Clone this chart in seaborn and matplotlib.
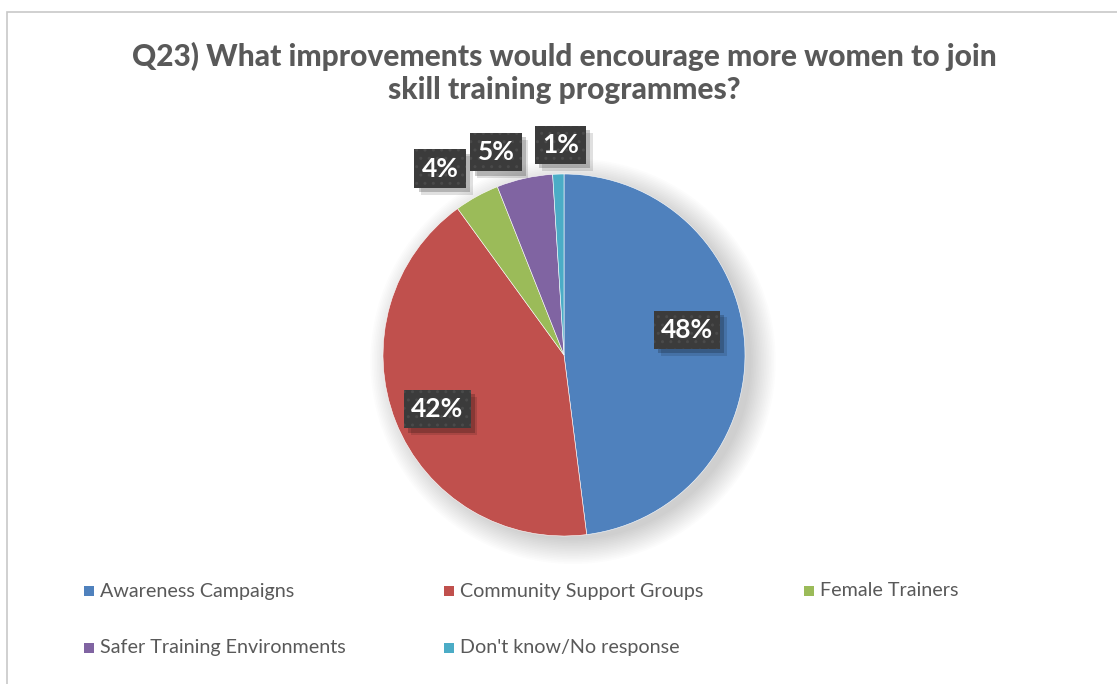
import matplotlib
matplotlib.use("Agg")
import matplotlib.pyplot as plt
import matplotlib.patheffects as pe
from matplotlib.patches import Rectangle, Circle
import seaborn as sns

# Survey responses
categories = ["Awareness Campaigns", "Community Support Groups", "Female Trainers",
              "Safer Training Environments", "Don't know/No response"]
shares = [48, 42, 4, 5, 1]
title = "Q23) What improvements would encourage more women to join\nskill training programmes?"

sns.set_theme(style="white")
plt.rcParams["font.family"] = ["Lato", "DejaVu Sans"]
plt.rcParams["hatch.linewidth"] = 1.0

palette = ["#4F81BD", "#C0504D", "#9BBB59", "#8064A2", "#4BACC6"]
text_grey = "#595959"

W, H = 1117, 684
fig = plt.figure(figsize=(W / 100, H / 100), dpi=100)
fig.patch.set_facecolor("white")

# one data unit = pie radius in pixels
R_PX = 181.0
CX, CY = 564.0, 355.0
ax = fig.add_axes([0, 0, 1, 1])

# soft drop shadow under the pie, cast to the lower right
for i in range(16):
    ax.add_patch(Circle((0.05, -0.035), 0.985 + 0.009 * i, facecolor="black",
                        edgecolor="none", alpha=0.011, zorder=1))

wedges, _ = ax.pie(shares, colors=palette, startangle=90, counterclock=False,
                   radius=1.0, center=(0, 0),
                   wedgeprops=dict(edgecolor="white", linewidth=0.4))
for w in wedges:
    w.set_zorder(2)

ax.set_xlim(-CX / R_PX, (W - CX) / R_PX)
ax.set_ylim(-(H - CY) / R_PX, CY / R_PX)
ax.set_aspect("equal")
ax.axis("off")

# label placement (x, y) in pie-radius units
label_pos = [(0.68, 0.14), (-0.70, -0.30), (-0.685, 1.03), (-0.376, 1.12), (-0.02, 1.16)]
box_style = "square,pad=0.27"
for val, (lx, ly) in zip(shares, label_pos):
    # solid box with a drop shadow
    base = ax.text(lx, ly, f"{val}%", ha="center", va="center", color="none",
                   fontsize=19, fontweight="bold", zorder=5,
                   bbox=dict(boxstyle=box_style, facecolor="#3b3b3b",
                             edgecolor="none", linewidth=0))
    base.get_bbox_patch().set_path_effects(
        [pe.SimplePatchShadow(offset=(5, -5), shadow_rgbFace="black", alpha=0.12),
         pe.SimplePatchShadow(offset=(3, -3), shadow_rgbFace="black", alpha=0.2),
         pe.Normal()])
    # dotted texture and the value text on top
    ax.text(lx, ly, f"{val}%", ha="center", va="center", color="white",
            fontsize=19, fontweight="bold", zorder=6,
            bbox=dict(boxstyle=box_style, facecolor="none",
                      edgecolor="#4a4a4a", hatch="..", linewidth=0))

# title
fig.text(CX / W, 1 - 73 / H, title, ha="center", va="center", fontsize=21.5,
         fontweight="black", color=text_grey, linespacing=1.25)

# legend, laid out row by row
col_x = [84, 444, 804]
row_y = [591, 648]
for i, (lab, col) in enumerate(zip(categories, palette)):
    r, c = divmod(i, 3)
    x0, y0 = col_x[c], row_y[r]
    fig.patches.append(Rectangle((x0 / W, 1 - (y0 + 5) / H), 10 / W, 10 / H,
                                 transform=fig.transFigure, facecolor=col,
                                 edgecolor="none", figure=fig))
    fig.text((x0 + 16) / W, 1 - y0 / H, lab, ha="left", va="center",
             fontsize=14.2, color=text_grey)

# chart frame
fig.patches.append(Rectangle((7 / W, -0.05), 1.2, 1 - 12 / H + 0.05,
                             transform=fig.transFigure, facecolor="none",
                             edgecolor="#c8c8c8", linewidth=1.2, figure=fig))

fig.savefig("out.png", dpi=100, facecolor="white")
